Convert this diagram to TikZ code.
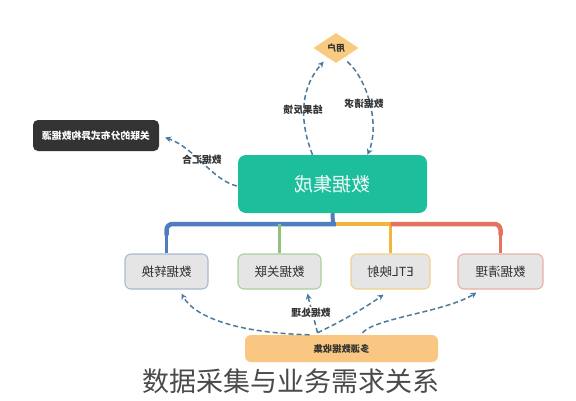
\documentclass[tikz,border=0pt]{standalone}
\usepackage{fontspec}
\setmainfont{Noto Sans CJK SC}
\usepackage{graphicx}
\usetikzlibrary{shapes.geometric,arrows.meta,calc}
\definecolor{maingreen}{HTML}{1DBE9B}
\definecolor{darkbox}{HTML}{333333}
\definecolor{boxgray}{HTML}{E5E5E5}
\definecolor{orangebox}{HTML}{F9C781}
\definecolor{diamondc}{HTML}{F8CB80}
\definecolor{cblue}{HTML}{4F7EC0}
\definecolor{cyellow}{HTML}{F2B43A}
\definecolor{cred}{HTML}{E4725E}
\definecolor{cgreen}{HTML}{8FC27C}
\definecolor{bblue}{HTML}{A9B9CF}
\definecolor{bgreen}{HTML}{A9CF9A}
\definecolor{byellow}{HTML}{F2D08A}
\definecolor{bred}{HTML}{E8B0A5}
\definecolor{flowc}{HTML}{4B7A9E}
\definecolor{textdark}{HTML}{333333}
\definecolor{captc}{HTML}{4A4A4A}
\newcommand{\mirtxt}[1]{\reflectbox{#1}}
\tikzset{
  subbox/.style={rounded corners=6pt, fill=boxgray, line width=1.1pt,
    minimum height=35pt, inner sep=0pt, text=textdark,
    font=\fontsize{12.5}{14}\selectfont},
  flow/.style={draw=flowc, line width=1.5pt, dash pattern=on 5pt off 3pt,
    -{Stealth[length=6pt,width=6pt]}},
  lbl/.style={font=\fontsize{9.8}{11}\selectfont\bfseries, text=textdark, inner sep=1pt},
  bar/.style={line width=4.5pt},
  drop/.style={line width=2.5pt}
}
\begin{document}
\begin{tikzpicture}[x=1pt,y=-1pt]
\useasboundingbox (0,0) rectangle (576,400);

% nodes
\node[shape=diamond, fill=diamondc, minimum width=45pt, minimum height=30pt, inner sep=0pt,
  font=\fontsize{9}{10}\selectfont\bfseries, text=textdark] (u) at (336,48) {\mirtxt{用户}};
\node[rounded corners=5pt, fill=darkbox, minimum width=126pt, minimum height=31pt, inner sep=0pt,
  font=\fontsize{9.8}{11}\selectfont\bfseries, text=white] (d) at (96,135.5) {\mirtxt{关联的分布式异构数据源}};
\node[rounded corners=8pt, fill=maingreen, minimum width=189pt, minimum height=58pt, inner sep=0pt,
  font=\fontsize{19}{21}\selectfont, text=white!92!maingreen] (m) at (332.5,184) {\mirtxt{数据集成}};
\node[subbox, draw=bblue, minimum width=83pt] (b1) at (166.5,271.5) {\mirtxt{数据转换}};
\node[subbox, draw=bgreen, minimum width=83pt] (b2) at (279.5,271.5) {\mirtxt{数据关联}};
\node[subbox, draw=byellow, minimum width=79pt] (b3) at (390.5,271.5) {\mirtxt{ETL映射}};
\node[subbox, draw=bred, minimum width=85pt] (b4) at (500.5,271.5) {\mirtxt{数据清理}};
\node[rounded corners=6pt, fill=orangebox, minimum width=193pt, minimum height=27pt, inner sep=0pt,
  font=\fontsize{9.3}{11}\selectfont\bfseries, text=textdark] (o) at (341.5,348.5) {\mirtxt{多源数据收集}};
\node[font=\fontsize{27}{30}\selectfont, text=captc] (cap) at (291,381) {数据采集与业务需求关系};

% tree connectors
\coordinate (j) at (333,224);
\draw[cblue, line width=4pt] (m.south) -- (j);
\draw[cblue, drop] (b1.north) -- ++(0,-20);
\draw[cblue, bar, rounded corners=6pt] ($(b1.north)+(0,-18)$) |- ($(j)+(3,0)$);
\draw[cgreen, drop] (b2.north) -- (b2.north |- j);
\draw[cyellow, bar] ($(j)+(3,0)$) -- (b3.north |- j);
\draw[cyellow, drop] (b3.north) -- (b3.north |- j);
\draw[cred, drop] (b4.north) -- ++(0,-20);
\draw[cred, bar, rounded corners=6pt] (b3.north |- j) -| ($(b4.north)+(0,-18)$);

% dashed flows, top
\draw[flow] ($(m.north)+(-20,0)$) .. controls (297,115) and (303,85) .. ($(u.south west)+(-1,6)$);
\node[lbl] at (303,110) {\mirtxt{结果反馈}};
\draw[flow] ($(u.south east)+(0,6)$) .. controls (368,80) and (380,125) .. ($(m.north)+(35,0)$);
\node[lbl] at (364,104) {\mirtxt{数据请求}};
\draw[flow] ($(m.west)+(-1,2)$) .. controls (212,180) and (195,148) .. ($(d.east)+(6,2)$);
\node[lbl] at (202,160) {\mirtxt{数据汇合}};

% dashed flows, bottom
\coordinate (k) at ($(o.north)+(-24,-2)$);
\draw[flow] ($(o.north)+(-32,0)$) .. controls (240,333) and (195,318) .. ($(b1.south)+(15,4)$);
\draw[flow] (k) .. controls (314,318) and (310,305) .. ($(b2.south)+(28,4)$);
\draw[flow] (k) .. controls (340,322) and (365,308) .. ($(b3.south)+(-7,5)$);
\draw[flow] ($(o.north)+(21,-2)$) .. controls (375,318) and (445,312) .. ($(b4.south)+(-24,3)$);
\node[lbl, fill=white] at (311,313) {\mirtxt{数据处理}};
\end{tikzpicture}
\end{document}
